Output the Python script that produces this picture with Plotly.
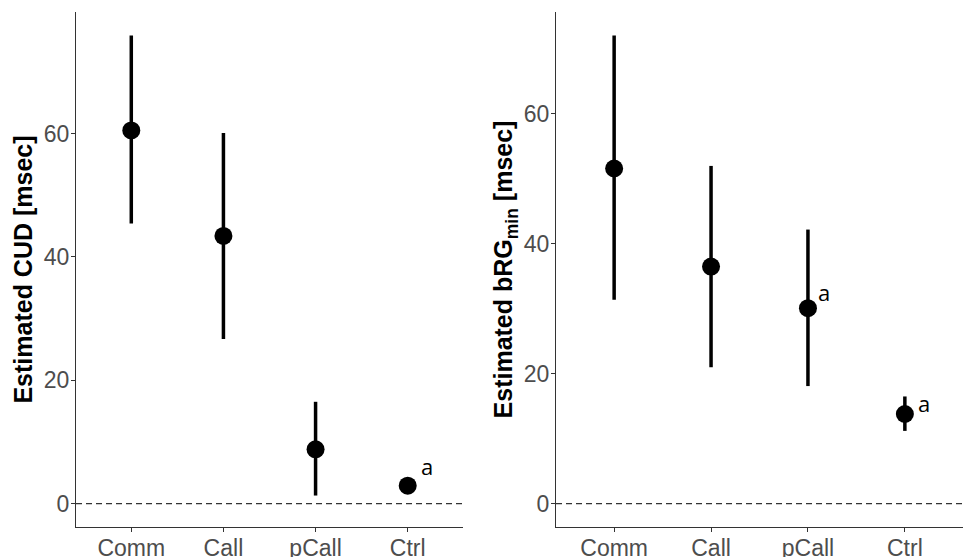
import plotly.graph_objects as go

categories = ["Comm", "Call", "pCall", "Ctrl"]

cud_est = [60.5, 43.4, 8.8, 2.9]
cud_low = [45.4, 26.7, 1.3, 2.0]
cud_high = [75.9, 60.1, 16.5, 3.8]

brg_est = [51.6, 36.5, 30.1, 13.8]
brg_low = [31.4, 21.0, 18.1, 11.2]
brg_high = [72.1, 52.0, 42.2, 16.5]

yticks = [0, 20, 40, 60]

fig = go.Figure()

def add_panel(est, low, high, xa, ya):
    fig.add_trace(go.Scatter(
        x=[1, 2, 3, 4], y=est, mode="markers",
        marker=dict(color="black", size=18),
        error_y=dict(type="data", symmetric=False,
                     array=[h - e for h, e in zip(high, est)],
                     arrayminus=[e - l for e, l in zip(est, low)],
                     color="black", thickness=3.5, width=0),
        xaxis=xa, yaxis=ya, showlegend=False, hoverinfo="skip"))

add_panel(cud_est, cud_low, cud_high, "x", "y")
add_panel(brg_est, brg_low, brg_high, "x2", "y2")

axis_common = dict(showgrid=False, zeroline=False, showline=True, linecolor="#333333",
                   linewidth=1.3, ticks="outside", ticklen=4, tickcolor="#333333",
                   tickfont=dict(family="Liberation Sans, Arial", size=23, color="#4d4d4d"),
                   automargin=False)

title_font = dict(family="Liberation Sans, Arial", size=25, color="black", weight="bold")

fig.update_layout(
    width=966, height=557,
    margin=dict(l=0, r=0, t=12, b=30),
    paper_bgcolor="white", plot_bgcolor="white",
    xaxis=dict(domain=[76/966, 463/966], range=[0.4, 4.6], tickvals=[1, 2, 3, 4],
               ticktext=categories, anchor="y", ticklabelstandoff=-4, **axis_common),
    yaxis=dict(domain=[0, 1], range=[-3.8, 79.7], tickvals=yticks, anchor="x",
               ticklabelstandoff=-3,
               title=dict(text="Estimated CUD [msec]", standoff=3, font=title_font),
               **axis_common),
    xaxis2=dict(domain=[556/966, 963/966], range=[0.4, 4.6], tickvals=[1, 2, 3, 4],
                ticktext=categories, anchor="y2", ticklabelstandoff=-4, **axis_common),
    yaxis2=dict(domain=[0, 1], range=[-3.6, 75.7], tickvals=yticks, anchor="x2",
                ticklabelstandoff=-3,
                title=dict(text="Estimated bRG<sub>min</sub> [msec]", standoff=3, font=title_font),
                **axis_common),
)

dash_line = dict(color="#333333", width=1.3, dash="6px,4px")
fig.add_shape(type="line", xref="x domain", yref="y", x0=0, x1=1, y0=0, y1=0, line=dash_line)
fig.add_shape(type="line", xref="x2 domain", yref="y2", x0=0, x1=1, y0=0, y1=0, line=dash_line)

ann_font = dict(family="Open Sans, DejaVu Sans", size=22, color="black")
fig.add_annotation(x=4, y=cud_est[3], xref="x", yref="y", text="a", showarrow=False,
                   xshift=19, yshift=20, font=ann_font)
fig.add_annotation(x=3, y=brg_est[2], xref="x2", yref="y2", text="a", showarrow=False,
                   xshift=16, yshift=16, font=ann_font)
fig.add_annotation(x=4, y=brg_est[3], xref="x2", yref="y2", text="a", showarrow=False,
                   xshift=19, yshift=11, font=ann_font)

fig.write_html("out.html", config={"displayModeBar": False},
               post_script="document.body.style.margin='0';document.body.style.padding='0';")
